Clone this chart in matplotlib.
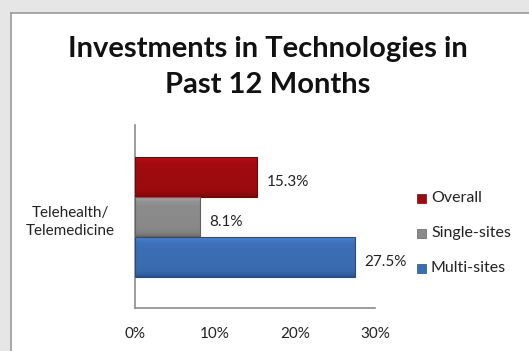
import numpy as np
import matplotlib.pyplot as plt
import matplotlib.colors as mcolors
from matplotlib.patches import Rectangle

W, H = 529, 351

series = ["Overall", "Single-sites", "Multi-sites"]
values = [15.3, 8.1, 27.5]
colors = ["#9e0b0f", "#8a8a8a", "#3b6db3"]
category = "Telehealth/\nTelemedicine"
xticks = [0, 10, 20, 30]
xtick_labels = ["0%", "10%", "20%", "30%"]
title = "Investments in Technologies in\nPast 12 Months"

plt.rcParams["font.family"] = ["Lato", "DejaVu Sans"]

fig = plt.figure(figsize=(W / 100, H / 100), dpi=100)
fig.patch.set_facecolor("#e6e6e6")

# white panel with thin gray frame on top/left
panel = Rectangle((11 / W, 0), 1 - 11 / W, 1 - 13 / H, transform=fig.transFigure,
                  facecolor="white", edgecolor="none", zorder=-10)
fig.patches.append(panel)
fig.add_artist(plt.Line2D([11 / W, 1], [1 - 13 / H, 1 - 13 / H], transform=fig.transFigure,
                          color="#9a9a9a", lw=1.2, zorder=-5))
fig.add_artist(plt.Line2D([11 / W, 11 / W], [0, 1 - 13 / H], transform=fig.transFigure,
                          color="#9a9a9a", lw=1.2, zorder=-5))

fig.text(268 / W, 1 - 67 / H, title, ha="center", va="center", fontsize=21,
         fontweight="bold", color="#111111", linespacing=1.45)

ax = fig.add_axes([135 / W, 43 / H, 240 / W, 183 / H])
ax.set_facecolor("none")

ypos = np.arange(len(series))
for y, v, c in zip(ypos, values, colors):
    base = np.array(mcolors.to_rgb(c))
    # vertical shading: lighter near the top edge, darker near the bottom
    t = np.linspace(0, 1, 40)[:, None]
    shade = 1.0 + 0.25 * np.exp(-t / 0.08) - 0.25 * np.exp(-(1 - t) / 0.08)
    img = np.clip(base[None, None, :] * shade[:, :, None], 0, 1)
    img = np.repeat(img, 2, axis=1)
    ax.imshow(img, extent=(0, v, y + 0.5, y - 0.5), aspect="auto", zorder=2)
    ax.add_patch(Rectangle((0, y - 0.5), v, 1.0, facecolor="none",
                           edgecolor=base * 0.7, lw=0.8, zorder=3))
    ax.text(v + 1.2, y + 0.12, f"{v:.1f}%", ha="left", va="center", fontsize=11,
            color="#222222")

ax.set_xlim(0, 30)
ax.set_ylim(3.275, -1.3)
ax.set_xticks(xticks)
ax.set_xticklabels(xtick_labels, fontsize=11, color="#222222")
ax.set_yticks([])
ax.tick_params(axis="x", length=0, pad=14)
for s in ["top", "right"]:
    ax.spines[s].set_visible(False)
for s in ["left", "bottom"]:
    ax.spines[s].set_color("#8c8c8c")
    ax.spines[s].set_linewidth(1.2)

fig.text(70 / W, 1 - 222 / H, category, ha="center", va="center", fontsize=11,
         color="#222222", linespacing=1.45)

# legend
for i, (name, c) in enumerate(zip(series, colors)):
    ycen = 1 - (198 + 35 * i) / H
    fig.patches.append(Rectangle((417 / W, ycen - 4.5 / H), 9 / W, 9 / H,
                                 transform=fig.transFigure, facecolor=c,
                                 edgecolor=np.array(mcolors.to_rgb(c)) * 0.7, lw=0.5))
    fig.text(431 / W, ycen, name, ha="left", va="center", fontsize=11.5, color="#222222")

fig.savefig("out.png", dpi=100, facecolor=fig.get_facecolor())
